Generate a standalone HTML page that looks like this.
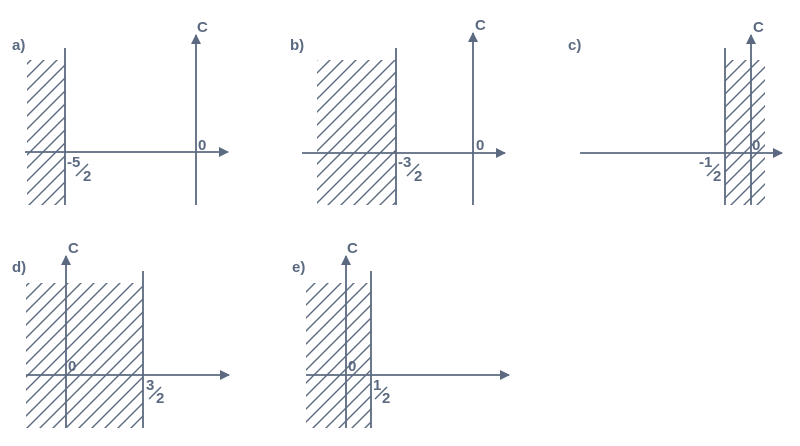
<!DOCTYPE html>
<html><head><meta charset="utf-8"><style>
html,body{margin:0;padding:0;background:#fff;}
svg{display:block}
text{font-family:"Liberation Sans",sans-serif;font-weight:bold;fill:#5b6a80;font-size:15px}
</style></head><body>
<svg width="800" height="446" viewBox="0 0 800 446" xmlns="http://www.w3.org/2000/svg">
<defs>
<pattern id="h" patternUnits="userSpaceOnUse" width="13" height="13">
<path d="M-1,14 L14,-1 M-1,1 L1,-1 M12,14 L14,12" stroke="#5b6a80" stroke-width="1.4"/>
</pattern>
<marker id="ar" viewBox="0 0 10 10" refX="9" refY="5" markerWidth="18" markerHeight="10" markerUnits="userSpaceOnUse" orient="auto">
<path d="M0,0 L10,5 L0,10 z" fill="#5b6a80"/>
</marker>
</defs>
<g stroke="#5b6a80" stroke-width="1.8" fill="none">
<rect x="27" y="60" width="38" height="145" fill="url(#h)" stroke="none"/>
<line x1="65" y1="48" x2="65" y2="205"/>
<line x1="25" y1="152" x2="228" y2="152" marker-end="url(#ar)"/>
<line x1="196" y1="205" x2="196" y2="35" marker-end="url(#ar)"/>
<rect x="317" y="60" width="79" height="145" fill="url(#h)" stroke="none"/>
<line x1="396" y1="48" x2="396" y2="205"/>
<line x1="302" y1="153" x2="505" y2="153" marker-end="url(#ar)"/>
<line x1="473" y1="205" x2="473" y2="33" marker-end="url(#ar)"/>
<rect x="725" y="60" width="40" height="145" fill="url(#h)" stroke="none"/>
<line x1="725" y1="48" x2="725" y2="205"/>
<line x1="580" y1="153" x2="782" y2="153" marker-end="url(#ar)"/>
<line x1="751" y1="205" x2="751" y2="35" marker-end="url(#ar)"/>
<rect x="26" y="283" width="117" height="145" fill="url(#h)" stroke="none"/>
<line x1="143" y1="271" x2="143" y2="428"/>
<line x1="26" y1="375" x2="229" y2="375" marker-end="url(#ar)"/>
<line x1="66" y1="428" x2="66" y2="256" marker-end="url(#ar)"/>
<rect x="306" y="283" width="65" height="145" fill="url(#h)" stroke="none"/>
<line x1="371" y1="271" x2="371" y2="428"/>
<line x1="306" y1="375" x2="509" y2="375" marker-end="url(#ar)"/>
<line x1="346" y1="428" x2="346" y2="256" marker-end="url(#ar)"/>
<line x1="76" y1="176" x2="88" y2="164" stroke-width="1.5"/>
<line x1="407" y1="176" x2="419" y2="164" stroke-width="1.5"/>
<line x1="707" y1="176" x2="719" y2="164" stroke-width="1.5"/>
<line x1="149" y1="399" x2="161" y2="387" stroke-width="1.5"/>
<line x1="375" y1="399" x2="387" y2="387" stroke-width="1.5"/>
</g>
<text x="12" y="50">a)</text>
<text x="290" y="50">b)</text>
<text x="568" y="50">c)</text>
<text x="12" y="272">d)</text>
<text x="292" y="272">e)</text>
<text x="197" y="32">C</text>
<text x="475" y="30">C</text>
<text x="753" y="32">C</text>
<text x="68" y="253">C</text>
<text x="347" y="253">C</text>
<text x="198" y="150">0</text>
<text x="476" y="150">0</text>
<text x="752" y="150">0</text>
<text x="68" y="371">0</text>
<text x="348" y="371">0</text>
<text x="67" y="167">-5</text>
<text x="83" y="181">2</text>
<text x="398" y="167">-3</text>
<text x="414" y="181">2</text>
<text x="699" y="167">-1</text>
<text x="713" y="181">2</text>
<text x="146" y="390">3</text>
<text x="156" y="403">2</text>
<text x="373" y="390">1</text>
<text x="382" y="403">2</text>
</svg>
</body></html>
